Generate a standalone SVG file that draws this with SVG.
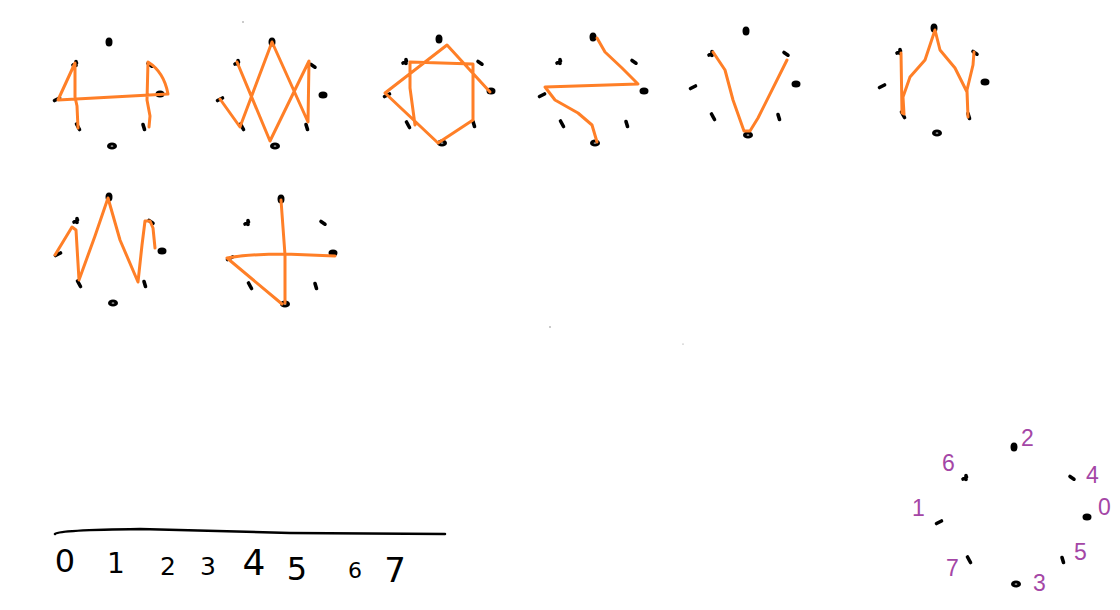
<svg xmlns="http://www.w3.org/2000/svg" width="1120" height="610" viewBox="0 0 1120 610">
<style>
.dot{fill:#000}
.dash{stroke:#000;stroke-width:3.6;stroke-linecap:round;fill:none}
.or{fill:none;stroke:#ff7f27;stroke-width:3;stroke-linejoin:round;stroke-linecap:round}
.lbl{font-family:"Liberation Sans",Arial,sans-serif;font-size:23px;fill:#a446a6}
.hd{font-family:"DejaVu Sans","Liberation Sans",sans-serif;fill:#000;text-anchor:middle}
</style>
<defs>
<g id="d2"><ellipse class="dot" cx="0" cy="0" rx="3.5" ry="4.5"/></g>
<g id="d6"><path class="dash" d="M-2,1 L1.5,-1 M1,-2.5 L1,1.5"/></g>
<g id="d1"><path class="dash" d="M-2.5,1.5 L2.5,-1"/></g>
<g id="d7"><path class="dash" d="M-1.5,-3 L1.5,2.5"/></g>
<g id="d3"><ellipse class="dot" cx="0" cy="0" rx="5" ry="3.6"/><ellipse cx="0" cy="0" rx="1.4" ry="0.6" fill="#fff"/></g>
<g id="d5"><path class="dash" d="M-1,-2.5 L0.5,2.5"/></g>
<g id="d0"><ellipse class="dot" cx="0" cy="0" rx="4.5" ry="3.5"/></g>
<g id="d4"><path class="dash" d="M-2,-1.5 L2,1.2"/></g>
</defs>
<rect width="1120" height="610" fill="#fff"/>

<g id="fig1">
<use href="#d2" x="109" y="42"/><use href="#d6" x="75" y="64"/><use href="#d1" x="57" y="99"/><use href="#d7" x="78" y="127"/>
<use href="#d3" x="112" y="146"/><use href="#d5" x="144" y="127"/><use href="#d0" x="160" y="94"/><use href="#d4" x="150" y="65"/>
</g>
<g id="fig2">
<use href="#d2" x="272" y="42"/><use href="#d6" x="237" y="63"/><use href="#d1" x="220" y="99"/><use href="#d7" x="242" y="127"/>
<use href="#d3" x="275" y="146"/><use href="#d5" x="307" y="127"/><use href="#d0" x="323" y="95"/><use href="#d4" x="313" y="66"/>
</g>
<g id="fig3">
<use href="#d2" x="439" y="39"/><use href="#d6" x="405" y="62"/><use href="#d1" x="387" y="95"/><use href="#d7" x="408" y="125"/>
<use href="#d3" x="442" y="143"/><use href="#d5" x="474" y="124"/><use href="#d0" x="491" y="91"/><use href="#d4" x="480" y="63"/>
</g>
<g id="fig4">
<use href="#d2" x="593" y="37"/><use href="#d6" x="559" y="62"/><use href="#d1" x="542" y="95"/><use href="#d7" x="562" y="124"/>
<use href="#d3" x="595" y="143"/><use href="#d5" x="627" y="124"/><use href="#d0" x="644" y="91"/><use href="#d4" x="634" y="62"/>
</g>
<g id="fig5">
<use href="#d2" x="746" y="31"/><use href="#d6" x="711" y="54"/><use href="#d1" x="693" y="87"/><use href="#d7" x="713" y="117"/>
<use href="#d3" x="748" y="135"/><use href="#d5" x="779" y="117"/><use href="#d0" x="796" y="84"/><use href="#d4" x="786" y="54"/>
</g>
<g id="fig6">
<use href="#d2" x="934" y="28"/><use href="#d6" x="899" y="52"/><use href="#d1" x="882" y="86"/><use href="#d7" x="903" y="115"/>
<use href="#d3" x="937" y="133"/><use href="#d5" x="969" y="116"/><use href="#d0" x="985" y="82"/><use href="#d4" x="975" y="53"/>
</g>
<g id="fig7">
<use href="#d2" x="109" y="197"/><use href="#d6" x="76" y="221"/><use href="#d1" x="58" y="254"/><use href="#d7" x="79" y="284"/>
<use href="#d3" x="113" y="303"/><use href="#d5" x="145" y="284"/><use href="#d0" x="162" y="251"/><use href="#d4" x="151" y="222"/>
</g>
<g id="fig8">
<use href="#d2" x="281" y="199"/><use href="#d6" x="247" y="223"/><use href="#d1" x="230" y="258"/><use href="#d7" x="250" y="286"/>
<use href="#d3" x="285" y="304"/><use href="#d5" x="316" y="286"/><use href="#d0" x="333" y="253"/><use href="#d4" x="323" y="223"/>
</g>

<g id="connectors">
<path class="or" d="M78,128 L77,106 L75,97 L75,63 L58,100 L168,94 Q164,72 148,62 L147,100 L150,116 L149,127"/>
<path class="or" d="M220,99 L240,127 L272,42 L308,122 L309,61 L270,141 L237,62"/>
<path class="or" d="M490,92 L447,45 L385,93 L438,143 L473,120 L473,64 L410,62 L410,88 L415,125"/>
<path class="or" d="M597,38 L605,52 L622,68 L638,84 L545,87 L555,100 L578,113 L592,125 L597,142"/>
<path class="or" d="M713,52 L725,70 L733,100 L744,131 L750,131 L758,118 L787,60"/>
<path class="or" d="M901,53 L902,113 L904,114 L903,97 L910,77 L925,60 L935,30 L940,50 L955,68 L967,92 L968,117 L967,90 L973,65 L974,52"/>
<path class="or" d="M55,255 L72,227 L76,230 L79,280 L95,236 L108,198 L120,240 L138,282 L142,245 L145,221 L150,221 L153,228 L155,248"/>
<path class="or" d="M281,200 L285,255 L285,303 M227,258 Q250,254 285,254 L335,256 M227,258 L282,304"/>
</g>

<g id="specks" fill="#888">
<circle cx="243" cy="22" r="0.8"/><circle cx="550" cy="327" r="0.8"/><circle cx="683" cy="344" r="0.6"/>
</g>

<g id="legend">
<use href="#d2" x="1014" y="447"/><use href="#d4" x="1072" y="478"/><use href="#d0" x="1087" y="517"/><use href="#d5" x="1063" y="560"/>
<use href="#d3" x="1016" y="584"/><use href="#d7" x="969" y="560"/><use href="#d1" x="939" y="522"/><use href="#d6" x="965" y="478"/>
<text class="lbl" x="1021" y="446">2</text>
<text class="lbl" x="1086" y="483">4</text>
<text class="lbl" x="1098" y="515">0</text>
<text class="lbl" x="1074" y="560">5</text>
<text class="lbl" x="1033" y="591">3</text>
<text class="lbl" x="946" y="576">7</text>
<text class="lbl" x="912" y="516">1</text>
<text class="lbl" x="942" y="471">6</text>
</g>

<g id="scale">
<path d="M55,534 Q58,530 140,529 L290,533 L445,534" fill="none" stroke="#000" stroke-width="2.5" stroke-linecap="round"/>
<text class="hd" x="65" y="572" font-size="32">0</text>
<text class="hd" x="116" y="573" font-size="28">1</text>
<text class="hd" x="168" y="575" font-size="25">2</text>
<text class="hd" x="208" y="575" font-size="25">3</text>
<text class="hd" x="254" y="575" font-size="36">4</text>
<text class="hd" x="297" y="580" font-size="32">5</text>
<text class="hd" x="355" y="578" font-size="22">6</text>
<text class="hd" x="395" y="582" font-size="34">7</text>
</g>
</svg>
